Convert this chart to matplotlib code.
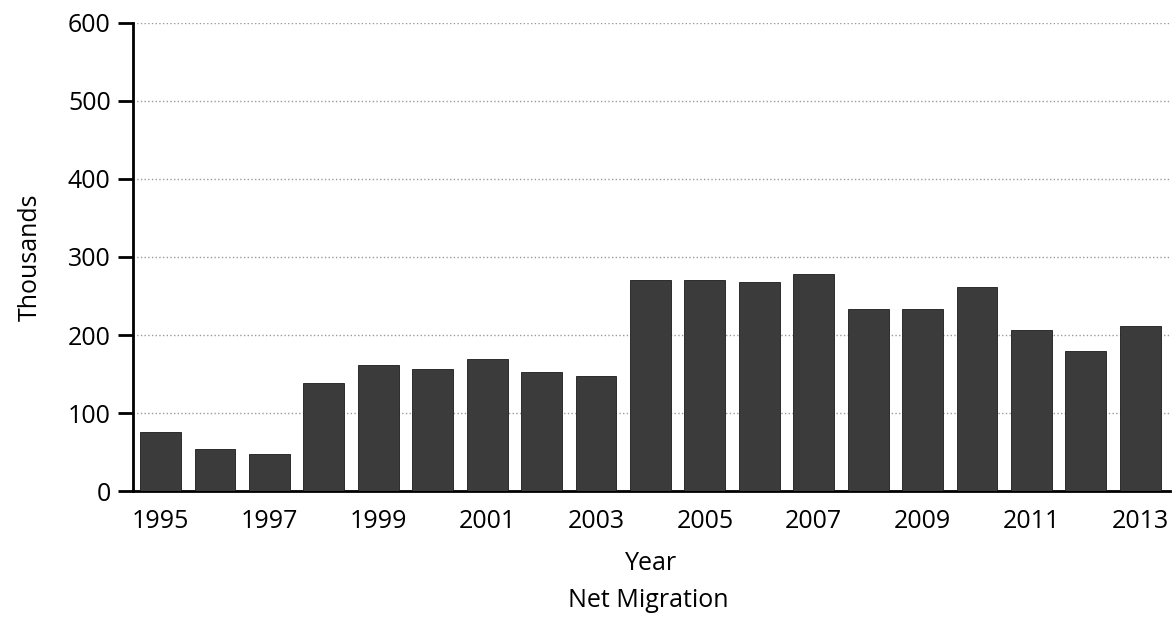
import numpy as np
from matplotlib import pyplot as plt

years = list(range(1995, 2014))
net_migration = [76, 54, 47, 138, 162, 157, 169, 153, 148,
                 271, 271, 268, 278, 233, 233, 261, 206, 180, 212]
tick_years = [y for y in years if y % 2 == 1]

plt.rcParams['font.family'] = ['Open Sans', 'DejaVu Sans']

fig = plt.figure(figsize=(11.76, 6.17), dpi=100)
ax = fig.add_axes([0.113, 0.204, 0.882, 0.759])

x = np.arange(len(years))
ax.bar(x, net_migration, width=0.75, color='#3b3b3b', edgecolor='#1a1a1a',
       linewidth=0.6, zorder=3)

ax.set_ylim(0, 600)
ax.set_xlim(-0.51, len(years) - 0.45)
ax.set_yticks(range(0, 601, 100))
ax.set_xticks([years.index(y) for y in tick_years])
ax.set_xticklabels([str(y) for y in tick_years])

ax.yaxis.grid(True, linestyle=':', color='#9a9a9a', linewidth=1.0, zorder=0)
ax.set_axisbelow(True)

for s in ['top', 'right']:
    ax.spines[s].set_visible(False)
ax.spines['left'].set_linewidth(2)
ax.spines['bottom'].set_linewidth(2)

ax.tick_params(axis='y', direction='out', length=11, width=2, labelsize=18, pad=5)
ax.tick_params(axis='x', length=0, labelsize=18, pad=13)

ax.set_ylabel('Thousands', fontsize=18, labelpad=18)
ax.set_xlabel('Year', fontsize=18, labelpad=12)
fig.text(0.551, 0.027, 'Net Migration', fontsize=18, ha='center', va='center')

fig.savefig('out.png', dpi=100)
